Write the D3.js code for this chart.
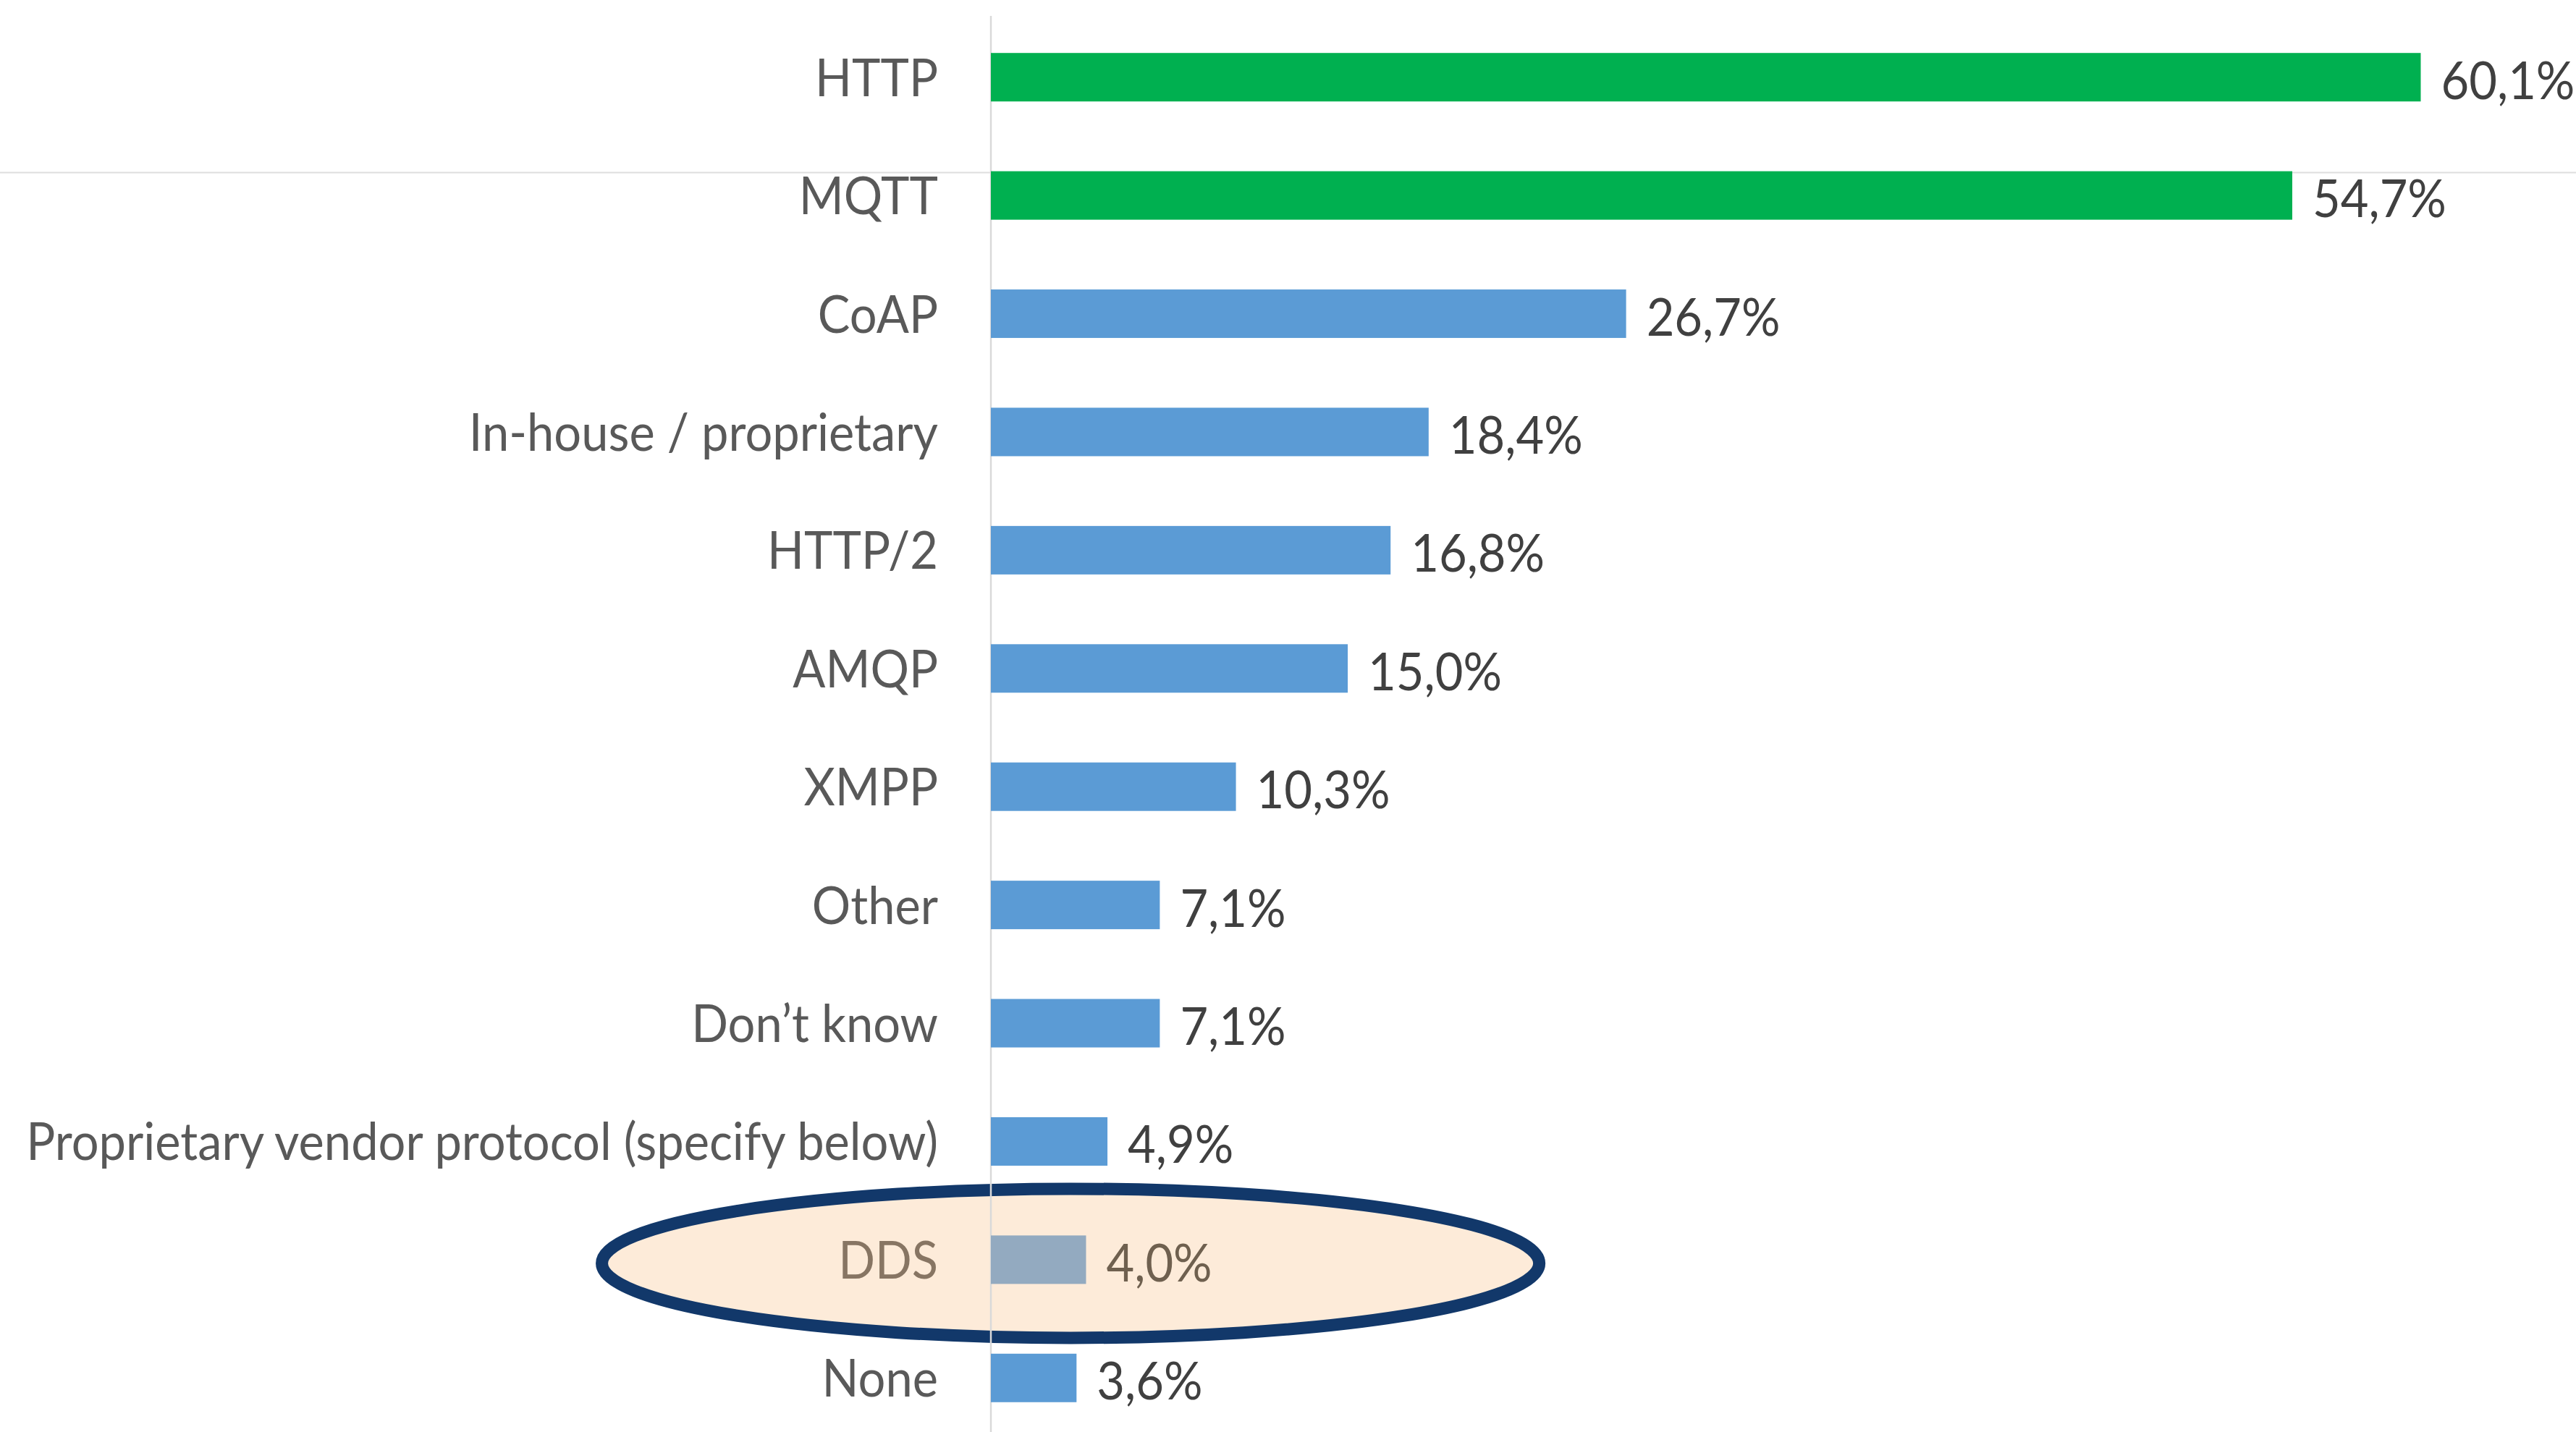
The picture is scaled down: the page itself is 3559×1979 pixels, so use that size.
<!DOCTYPE html>
<html>
<head>
<meta charset="utf-8">
<script src="https://cdn.jsdelivr.net/npm/d3@7"></script>
<style>
  html, body { margin: 0; padding: 0; background: #fff; }
  svg { display: block; }
</style>
</head>
<body>
<svg id="chart"></svg>
<script>
const categories = [
  'HTTP', 'MQTT', 'CoAP', 'In-house / proprietary', 'HTTP/2', 'AMQP', 'XMPP',
  'Other', 'Don\u2019t know', 'Proprietary vendor protocol (specify below)', 'DDS', 'None'
];
const values = [60.1, 54.7, 26.7, 18.4, 16.8, 15.0, 10.3, 7.1, 7.1, 4.9, 4.0, 3.6];
const highlighted = ['HTTP', 'MQTT'];
const circled = 'DDS';

const W = 3559;
const H = 1979;
const FONT = 'Lato, "Open Sans", sans-serif';
const LONGEST_W = 1260; // rendered width of the longest label in the reference

const svg = d3.select('#chart').attr('width', W).attr('height', H);

const x = d3.scaleLinear().domain([0, 100]).range([1369, 1369 + 3287]);
const y = d3.scaleBand()
  .domain(categories)
  .range([25, 1986])
  .paddingInner(0.59)
  .paddingOuter(0.295);

const locale = d3.formatLocale({ decimal: ',', thousands: '.', grouping: [3], currency: ['', '\u20ac'] });
const fmt = v => locale.format('.1f')(v) + '%';

const rows = categories.map((c, i) => ({ cat: c, value: values[i] }));

// faint rule across the top block
svg.append('line')
  .attr('x1', 0).attr('x2', W)
  .attr('y1', y('MQTT') + 2).attr('y2', y('MQTT') + 2)
  .attr('stroke', '#dedede').attr('stroke-width', 2);

// highlight ellipse behind DDS
const cy = y(circled) + y.bandwidth() / 2 + 5;
svg.append('ellipse')
  .attr('cx', x(3.35))
  .attr('cy', cy)
  .attr('rx', x(19.7) - x(0))
  .attr('ry', 103)
  .attr('fill', '#fdebd9')
  .attr('stroke', '#12386a')
  .attr('stroke-width', 17);

// vertical axis line
svg.append('line')
  .attr('x1', x(0)).attr('x2', x(0))
  .attr('y1', 22).attr('y2', H)
  .attr('stroke', '#d9d9d9').attr('stroke-width', 2.5);

function barColor(d) {
  if (highlighted.includes(d.cat)) return '#00b050';
  if (d.cat === circled) return '#93aac0';
  return '#5b9bd5';
}

svg.append('g').selectAll('rect').data(rows).join('rect')
  .attr('x', x(0))
  .attr('y', d => y(d.cat))
  .attr('width', d => x(d.value) - x(0))
  .attr('height', y.bandwidth())
  .attr('fill', barColor);

const catLabels = svg.append('g').selectAll('text').data(rows).join('text')
  .attr('text-anchor', 'end')
  .attr('dominant-baseline', 'central')
  .attr('font-family', FONT)
  .attr('font-size', 72)
  .attr('fill', d => d.cat === circled ? '#877563' : '#595959')
  .text(d => d.cat);

const valLabels = svg.append('g').selectAll('text').data(rows).join('text')
  .attr('dominant-baseline', 'central')
  .attr('font-family', FONT)
  .attr('font-size', 72)
  .attr('fill', d => d.cat === circled ? '#6f604f' : '#404040')
  .text(d => fmt(d.value));

// the source font is condensed; squeeze horizontally to match
const longest = catLabels.filter(d => d.cat.startsWith('Proprietary')).node().getComputedTextLength();
const k = LONGEST_W / longest;

catLabels.attr('transform', d =>
  `translate(${x(0) - 73},${y(d.cat) + y.bandwidth() / 2 - 2}) scale(${k},1)`);
valLabels.attr('transform', d =>
  `translate(${x(d.value) + 28},${y(d.cat) + y.bandwidth() / 2 + 2}) scale(${k},1)`);
</script>
</body>
</html>
